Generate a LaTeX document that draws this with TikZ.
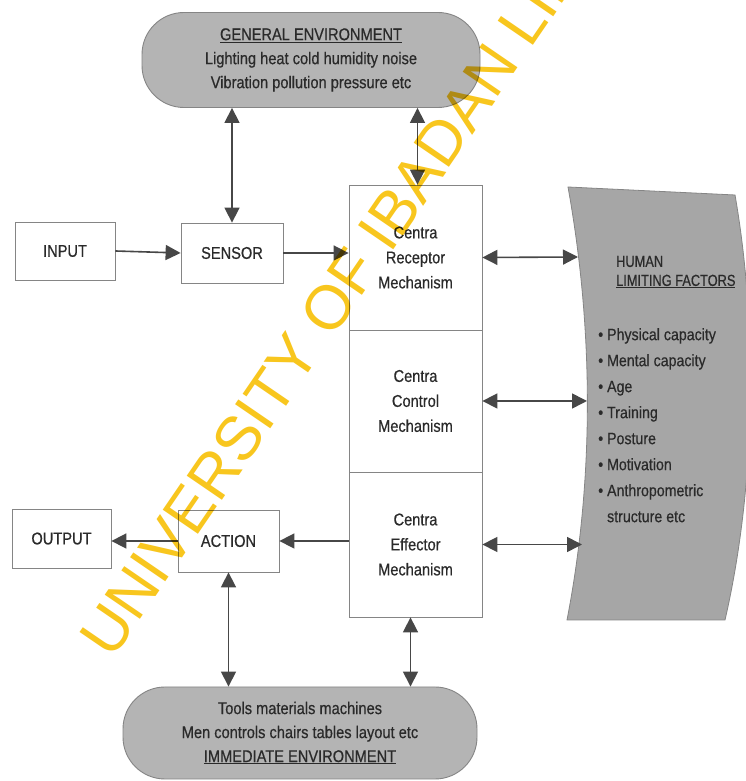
\documentclass[tikz,border=0pt]{standalone}
\usepackage{fontspec}
\setmainfont{Liberation Sans}[FakeStretch=0.86,FakeBold=0.5]
\newfontfamily\wmfont{Liberation Sans}
\usetikzlibrary{arrows.meta}
\definecolor{pill}{HTML}{B4B4B4}
\definecolor{humc}{HTML}{A6A6A6}
\definecolor{ln}{HTML}{474747}
\definecolor{bx}{HTML}{858585}
\definecolor{txt}{HTML}{2A2A2A}
\definecolor{wm}{HTML}{F8C61E}
\begin{document}
\begin{tikzpicture}[x=1pt,y=1pt,
  every node/.style={text=txt},
  box/.style={draw=bx,line width=0.8pt,inner sep=0pt,align=center,font=\fontsize{17}{25}\selectfont},
  pillbox/.style={draw=bx,fill=pill,line width=0.9pt,rounded corners=42pt,inner sep=0pt,align=center,font=\fontsize{17}{24}\selectfont},
  arr/.style={draw=ln,line width=1.6pt,-{Triangle[length=15pt,width=15pt]}},
  darr/.style={draw=ln,line width=1.6pt,{Triangle[length=15pt,width=15pt]}-{Triangle[length=15pt,width=15pt]}}
]
\useasboundingbox (0,0) rectangle (745,781);
\fill[white] (0,0) rectangle (745,781);

% environments
\node[pillbox,minimum width=338pt,minimum height=95pt] (ge) at (311,721)
  {\underline{GENERAL ENVIRONMENT}\\Lighting heat cold humidity noise\\Vibration pollution pressure etc};
\node[pillbox,minimum width=354pt,minimum height=92pt] (ie) at (300,48)
  {Tools materials machines\\Men controls chairs tables layout etc\\\underline{IMMEDIATE ENVIRONMENT}};

% boxes
\node[box,minimum width=100pt,minimum height=58pt] (input) at (65,530) {INPUT};
\node[box,minimum width=102pt,minimum height=60pt] (sensor) at (232,528) {SENSOR};
\node[box,minimum width=133pt,minimum height=145pt] (receptor) at (415.5,523.5) {Centra\\Receptor\\Mechanism};
\node[box,minimum width=133pt,minimum height=142pt] (control) at (415.5,380) {Centra\\Control\\Mechanism};
\node[box,minimum width=133pt,minimum height=145pt] (effector) at (415.5,236.5) {Centra\\Effector\\Mechanism};
\node[box,minimum width=99pt,minimum height=59pt] (output) at (61.5,242.5) {OUTPUT};
\node[box,minimum width=101pt,minimum height=62pt] (action) at (228.5,240) {ACTION};

% human limiting factors
\path[fill=humc,draw=bx,line width=0.8pt] (568,594) .. controls (594,450) and (594,300) .. (567,161)
  -- (725,161) .. controls (757,300) and (757,460) .. (735,586) -- cycle;
\node[anchor=west,inner sep=0pt,align=left,font=\fontsize{16}{19}\selectfont\addfontfeatures{FakeStretch=0.8}] (humt) at (616,509)
  {HUMAN\\\underline{LIMITING FACTORS}};
\node[anchor=north west,inner sep=0pt,align=left,font=\fontsize{16.5}{26}\selectfont] (huml) at (598,453)
  {\textbullet\ Physical capacity\\
   \textbullet\ Mental capacity\\
   \textbullet\ Age\\
   \textbullet\ Training\\
   \textbullet\ Posture\\
   \textbullet\ Motivation\\
   \textbullet\ Anthropometric\\
   \phantom{\textbullet\ }structure etc};
\coordinate (hr) at (578,524);
\coordinate (hc) at (587,380);
\coordinate (he) at (582,236.5);

% connectors
\draw[arr] (input.east) -- (sensor.west);
\draw[arr] (sensor.east) -- (sensor.east -| receptor.west);
\draw[darr] (sensor.north) -- (sensor.north |- ge.south);
\draw[darr] ([xshift=2pt]receptor.north) -- ([xshift=2pt]receptor.north |- ge.south);
\draw[darr] (receptor.east) -- (hr);
\draw[darr] (control.east) -- (hc);
\draw[darr] (effector.east) -- (he);
\draw[arr] (effector.west |- action.east) -- (action.east);
\draw[arr] (action.west) -- (action.west -| output.east);
\draw[darr] (action.south) -- (action.south |- ie.north);
\draw[darr] ([xshift=-5pt]effector.south) -- ([xshift=-5pt]effector.south |- ie.north);

% watermark
\begin{scope}[blend mode=multiply]
\clip (0,0) rectangle (745,781);
\node[rotate=55.6,anchor=base west,inner sep=0pt,text=wm,font=\wmfont\fontsize{62}{62}\selectfont] (wmark) at (112,120)
  {UNIVERSITY OF IBADAN LIBRARY};
\end{scope}
\end{tikzpicture}
\end{document}
